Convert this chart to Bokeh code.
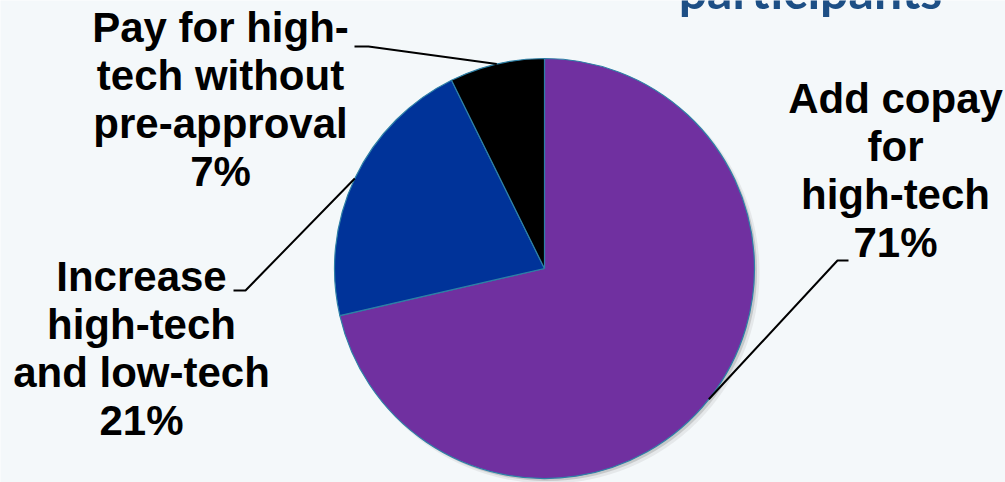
import math
from bokeh.plotting import figure
from bokeh.models import Range1d
from bokeh.core.properties import value
from bokeh.embed import file_html
from bokeh.resources import INLINE

# ---- data ----
categories = ["Add copay for high-tech",
              "Increase high-tech and low-tech",
              "Pay for high-tech without pre-approval"]
values = [71.4, 21.3, 7.3]
colors = ["#7030A0", "#003399", "#000000"]
label_lines = [["Add copay", "for", "high-tech"],
               ["Increase", "high-tech", "and low-tech"],
               ["Pay for high-", "tech without", "pre-approval"]]
title_text = "participants"

# ---- layout (screen pixel coordinates of the 1005x482 page) ----
W, H = 1005, 482
TEXT_SHIFT = 15  # compensates the renderer's baseline placement


def Y(sy):
    return H - sy


p = figure(width=W, height=H, x_range=Range1d(0, W), y_range=Range1d(0, H),
           output_backend="svg", toolbar_location=None, min_border=0)
p.axis.visible = False
p.xgrid.visible = False
p.ygrid.visible = False
p.outline_line_color = None
p.background_fill_color = "#F4F8FA"
p.border_fill_color = "#F4F8FA"

cx, cy, r = 544, Y(268), 210

# shadow
p.circle(x=[cx + 4], y=[cy - 4], radius=r + 1, fill_color="#7A7A7A",
         fill_alpha=0.12, line_color=None)
p.circle(x=[cx + 2.5], y=[cy - 2.5], radius=r, fill_color="#6A6A6A",
         fill_alpha=0.25, line_color=None)

total = sum(values)
cum = [0.0]
for v in values:
    cum.append(cum[-1] + v / total)
starts = [math.pi / 2 - 2 * math.pi * c for c in cum[:-1]]
ends = [math.pi / 2 - 2 * math.pi * c for c in cum[1:]]
p.wedge(x=[cx] * len(values), y=[cy] * len(values), radius=r,
        start_angle=starts, end_angle=ends, direction="clock",
        fill_color=colors, line_color="#2E80A6", line_width=1.2)

# leader lines: from label elbow to the middle of each slice's arc
elbows = [[(848, 260), (837, 260)],
          [(233, 290), (245, 290)],
          [(354, 46), (368, 46)]]
xs, ys = [], []
for i in range(len(values)):
    th = 2 * math.pi * (cum[i] + cum[i + 1]) / 2
    ex = cx + r * math.sin(th)
    ey = cy + r * math.cos(th)
    xs.append([elbows[i][0][0], elbows[i][1][0], ex])
    ys.append([Y(elbows[i][0][1]), Y(elbows[i][1][1]), ey])
p.multi_line(xs=xs, ys=ys, line_color="black", line_width=2)

# labels
label_pos = [(895, 113), (141, 291), (220, 42)]
LINE = 48
tx, ty, tt = [], [], []
for i, v in enumerate(values):
    lines = label_lines[i] + [f"{round(v)}%"]
    for j, s in enumerate(lines):
        tx.append(label_pos[i][0])
        ty.append(Y(label_pos[i][1] + j * LINE - TEXT_SHIFT))
        tt.append(s)
p.text(x=tx, y=ty, text=tt, text_align="center", text_baseline="alphabetic",
       text_font=value("Liberation Sans"), text_font_style="bold",
       text_font_size="42px", text_color="black")

# cut-off title
p.text(x=[810], y=[Y(4 - TEXT_SHIFT)], text=[title_text], text_align="center",
       text_baseline="alphabetic", text_font=value("Lato"),
       text_font_style="bold", text_font_size="50px", text_color="#1D4F85")

open("out.html", "w").write(file_html(p, INLINE))
